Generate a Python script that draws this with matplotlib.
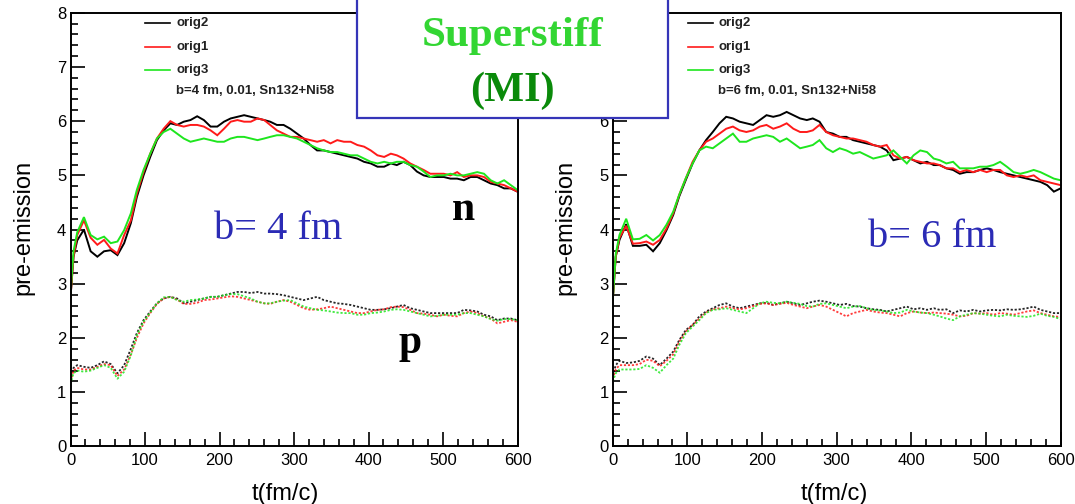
import matplotlib
matplotlib.use("Agg")
import matplotlib.pyplot as plt
from matplotlib.patches import Rectangle
from matplotlib.ticker import MultipleLocator, FuncFormatter

plt.rcParams['font.family'] = ['Liberation Sans', 'DejaVu Sans']

# time grid (fm/c)
t = [0, 4, 9, 18, 27, 36, 45, 54, 63, 72, 81, 89, 98, 107, 116, 125, 134, 143, 152, 161,
     170, 179, 188, 197, 206, 215, 224, 233, 242, 251, 260, 268, 277, 286, 295, 304, 313,
     322, 331, 340, 349, 358, 367, 376, 385, 394, 403, 412, 421, 430, 438, 447, 456, 465,
     474, 483, 492, 501, 510, 519, 528, 537, 546, 555, 564, 573, 582, 591, 600]

# b = 4 fm, neutrons
b4_n_orig2 = [2.76, 3.5, 3.8, 4.0, 3.6, 3.5, 3.6, 3.62, 3.53, 3.75, 4.12, 4.6, 5.0, 5.34, 5.65,
              5.83, 5.96, 5.93, 5.99, 6.02, 6.09, 6.02, 5.9, 5.9, 5.99, 6.05, 6.08, 6.11, 6.08,
              6.05, 6.02, 5.99, 5.93, 5.93, 5.86, 5.77, 5.68, 5.56, 5.46, 5.46, 5.43, 5.4, 5.37,
              5.34, 5.31, 5.25, 5.22, 5.16, 5.16, 5.22, 5.19, 5.25, 5.19, 5.07, 5.0, 4.97, 4.97,
              4.97, 4.94, 4.94, 4.91, 4.97, 4.97, 4.91, 4.85, 4.82, 4.76, 4.76, 4.7]
b4_n_orig1 = [2.76, 3.5, 3.9, 4.17, 3.85, 3.72, 3.81, 3.65, 3.56, 3.9, 4.17, 4.66, 5.06, 5.4, 5.68,
              5.86, 6.0, 5.93, 5.9, 5.93, 5.93, 5.9, 5.83, 5.74, 5.86, 5.99, 6.02, 5.99, 5.99,
              6.05, 6.02, 5.93, 5.83, 5.77, 5.71, 5.71, 5.68, 5.65, 5.62, 5.65, 5.59, 5.65, 5.62,
              5.62, 5.56, 5.53, 5.46, 5.37, 5.34, 5.4, 5.37, 5.31, 5.22, 5.16, 5.1, 5.03, 5.03,
              5.03, 5.0, 5.06, 4.97, 5.0, 5.0, 4.97, 4.88, 4.85, 4.82, 4.76, 4.7]
b4_n_orig3 = [2.8, 3.6, 3.95, 4.23, 3.9, 3.82, 3.87, 3.75, 3.78, 3.99, 4.3, 4.73, 5.1, 5.4, 5.68,
              5.8, 5.86, 5.77, 5.68, 5.62, 5.65, 5.68, 5.65, 5.62, 5.62, 5.68, 5.71, 5.71, 5.68,
              5.65, 5.68, 5.71, 5.74, 5.74, 5.71, 5.68, 5.62, 5.56, 5.5, 5.46, 5.43, 5.43, 5.4,
              5.37, 5.37, 5.31, 5.25, 5.22, 5.25, 5.22, 5.25, 5.25, 5.19, 5.16, 5.07, 4.97, 5.0,
              5.0, 5.03, 5.0, 5.0, 5.03, 5.06, 5.03, 4.91, 4.85, 4.91, 4.82, 4.73]

# b = 4 fm, protons
b4_p_orig2 = [1.22, 1.45, 1.5, 1.47, 1.45, 1.5, 1.57, 1.52, 1.35, 1.5, 1.8, 2.09, 2.33, 2.49, 2.64,
              2.73, 2.76, 2.73, 2.64, 2.67, 2.7, 2.73, 2.76, 2.76, 2.79, 2.82, 2.85, 2.85, 2.83,
              2.85, 2.82, 2.82, 2.81, 2.79, 2.76, 2.73, 2.7, 2.73, 2.76, 2.7, 2.67, 2.64, 2.63,
              2.61, 2.58, 2.55, 2.52, 2.52, 2.53, 2.55, 2.58, 2.61, 2.55, 2.52, 2.49, 2.46, 2.46,
              2.46, 2.46, 2.46, 2.52, 2.51, 2.49, 2.43, 2.4, 2.33, 2.36, 2.36, 2.33]
b4_p_orig1 = [1.2, 1.4, 1.45, 1.42, 1.42, 1.47, 1.52, 1.5, 1.3, 1.42, 1.7, 2.0, 2.27, 2.46, 2.63,
              2.73, 2.76, 2.71, 2.63, 2.63, 2.65, 2.7, 2.71, 2.73, 2.75, 2.77, 2.76, 2.73, 2.7,
              2.67, 2.64, 2.63, 2.67, 2.7, 2.67, 2.61, 2.55, 2.52, 2.53, 2.55, 2.58, 2.55, 2.52,
              2.49, 2.46, 2.46, 2.49, 2.52, 2.53, 2.57, 2.58, 2.57, 2.52, 2.46, 2.45, 2.43, 2.4,
              2.43, 2.41, 2.4, 2.46, 2.49, 2.46, 2.4, 2.36, 2.27, 2.3, 2.33, 2.3]
b4_p_orig3 = [1.15, 1.35, 1.4, 1.38, 1.4, 1.45, 1.5, 1.45, 1.25, 1.38, 1.68, 2.05, 2.3, 2.47, 2.64,
              2.75, 2.76, 2.7, 2.67, 2.7, 2.71, 2.73, 2.76, 2.76, 2.79, 2.81, 2.81, 2.77, 2.73,
              2.67, 2.64, 2.64, 2.67, 2.69, 2.7, 2.64, 2.58, 2.55, 2.52, 2.51, 2.49, 2.47, 2.46,
              2.46, 2.43, 2.43, 2.46, 2.47, 2.49, 2.52, 2.53, 2.52, 2.49, 2.46, 2.43, 2.4, 2.41,
              2.43, 2.43, 2.43, 2.46, 2.46, 2.43, 2.4, 2.35, 2.32, 2.35, 2.35, 2.33]

# b = 6 fm, neutrons
b6_n_orig2 = [2.7, 3.5, 3.81, 4.1, 3.7, 3.7, 3.72, 3.6, 3.75, 3.99, 4.27, 4.61, 4.92, 5.22, 5.46,
              5.65, 5.8, 5.96, 6.08, 6.05, 5.99, 5.96, 5.93, 6.02, 6.11, 6.08, 6.11, 6.17, 6.11,
              6.05, 6.02, 6.05, 5.99, 5.8, 5.77, 5.71, 5.71, 5.65, 5.62, 5.59, 5.56, 5.53, 5.46,
              5.28, 5.31, 5.34, 5.28, 5.22, 5.25, 5.19, 5.19, 5.13, 5.1, 5.03, 5.06, 5.06, 5.1,
              5.13, 5.1, 5.06, 5.03, 5.0, 4.97, 4.94, 4.91, 4.88, 4.82, 4.7, 4.76]
b6_n_orig1 = [2.7, 3.5, 3.85, 4.07, 3.74, 3.75, 3.78, 3.72, 3.81, 4.02, 4.3, 4.64, 4.95, 5.25, 5.46,
              5.62, 5.68, 5.77, 5.86, 5.9, 5.83, 5.8, 5.83, 5.9, 5.93, 5.86, 5.9, 5.96, 5.86,
              5.8, 5.8, 5.83, 5.93, 5.8, 5.74, 5.71, 5.68, 5.68, 5.65, 5.62, 5.56, 5.53, 5.56,
              5.37, 5.31, 5.34, 5.28, 5.25, 5.22, 5.22, 5.19, 5.13, 5.13, 5.06, 5.1, 5.06, 5.1,
              5.06, 5.1, 5.1, 5.0, 4.97, 5.0, 4.97, 5.0, 4.91, 4.88, 4.85, 4.82]
b6_n_orig3 = [2.7, 3.55, 3.9, 4.2, 3.82, 3.83, 3.9, 3.8, 3.9, 4.09, 4.33, 4.64, 4.95, 5.22, 5.46,
              5.53, 5.5, 5.59, 5.68, 5.77, 5.62, 5.62, 5.68, 5.71, 5.74, 5.71, 5.62, 5.68, 5.59,
              5.5, 5.53, 5.56, 5.65, 5.5, 5.43, 5.5, 5.46, 5.4, 5.43, 5.37, 5.31, 5.34, 5.37,
              5.46, 5.34, 5.22, 5.37, 5.46, 5.43, 5.31, 5.28, 5.22, 5.25, 5.13, 5.13, 5.13, 5.16,
              5.16, 5.19, 5.25, 5.16, 5.06, 5.03, 5.06, 5.1, 5.06, 5.0, 4.94, 4.91]

# b = 6 fm, protons
b6_p_orig2 = [1.3, 1.5, 1.58, 1.54, 1.55, 1.58, 1.66, 1.62, 1.5, 1.62, 1.75, 1.96, 2.15, 2.24, 2.4,
              2.49, 2.55, 2.61, 2.64, 2.58, 2.55, 2.58, 2.61, 2.64, 2.65, 2.61, 2.64, 2.67, 2.64,
              2.61, 2.64, 2.67, 2.69, 2.67, 2.64, 2.61, 2.63, 2.59, 2.58, 2.55, 2.53, 2.52, 2.49,
              2.52, 2.55, 2.58, 2.53, 2.55, 2.52, 2.55, 2.52, 2.53, 2.46, 2.51, 2.49, 2.52, 2.49,
              2.51, 2.52, 2.51, 2.53, 2.52, 2.53, 2.55, 2.58, 2.52, 2.49, 2.46, 2.46]
b6_p_orig1 = [1.25, 1.42, 1.5, 1.5, 1.5, 1.52, 1.6, 1.58, 1.48, 1.58, 1.7, 1.93, 2.12, 2.24, 2.36,
              2.47, 2.53, 2.55, 2.58, 2.55, 2.53, 2.55, 2.59, 2.63, 2.64, 2.61, 2.63, 2.65, 2.61,
              2.58, 2.55, 2.58, 2.61, 2.58, 2.52, 2.46, 2.4, 2.46, 2.49, 2.52, 2.49, 2.47, 2.46,
              2.43, 2.4, 2.46, 2.49, 2.47, 2.46, 2.47, 2.46, 2.45, 2.43, 2.4, 2.41, 2.46, 2.45,
              2.46, 2.43, 2.46, 2.45, 2.43, 2.46, 2.49, 2.51, 2.46, 2.43, 2.4, 2.39]
b6_p_orig3 = [1.2, 1.35, 1.42, 1.42, 1.42, 1.43, 1.5, 1.45, 1.36, 1.5, 1.62, 1.87, 2.09, 2.21, 2.33,
              2.46, 2.52, 2.53, 2.55, 2.52, 2.49, 2.46, 2.55, 2.64, 2.67, 2.65, 2.64, 2.67, 2.65,
              2.63, 2.59, 2.58, 2.63, 2.64, 2.61, 2.58, 2.55, 2.58, 2.59, 2.55, 2.52, 2.51, 2.49,
              2.46, 2.47, 2.52, 2.49, 2.47, 2.46, 2.43, 2.4, 2.36, 2.33, 2.4, 2.43, 2.46, 2.45,
              2.43, 2.41, 2.4, 2.43, 2.41, 2.4, 2.39, 2.41, 2.45, 2.41, 2.39, 2.35]

series_names = ["orig2", "orig1", "orig3"]
series_colors = ["#000000", "#ff1a1a", "#1ee61e"]

panels = [
    dict(n=[b4_n_orig2, b4_n_orig1, b4_n_orig3], p=[b4_p_orig2, b4_p_orig1, b4_p_orig3],
         info="b=4 fm, 0.01, Sn132+Ni58", big="b= 4 fm", big_xy=(0.464, 0.478),
         rect=[0.0656, 0.1141, 0.4158, 0.8607], xlab_x=0.48, ymax_label=8),
    dict(n=[b6_n_orig2, b6_n_orig1, b6_n_orig3], p=[b6_p_orig2, b6_p_orig1, b6_p_orig3],
         info="b=6 fm, 0.01, Sn132+Ni58", big="b= 6 fm", big_xy=(0.713, 0.461),
         rect=[0.5700, 0.1141, 0.4166, 0.8607], xlab_x=0.494, ymax_label=6),
]

fig = plt.figure(figsize=(10.75, 5.04), dpi=100)
fig.patch.set_facecolor("white")

axes = []
for pnl in panels:
    ax = fig.add_axes(pnl["rect"])
    axes.append(ax)
    for ys, c in zip(pnl["n"], series_colors):
        ax.plot(t, ys, color=c, lw=1.4, solid_joinstyle="miter")
    for ys, c in zip(pnl["p"], series_colors):
        ax.plot(t, ys, color=c, lw=1.3, ls=(0, (1.2, 1.0)), alpha=0.85)

    ax.set_xlim(0, 600)
    ax.set_ylim(0, 8)
    ax.xaxis.set_major_locator(MultipleLocator(100))
    ax.xaxis.set_minor_locator(MultipleLocator(20))
    ax.yaxis.set_major_locator(MultipleLocator(1))
    ax.yaxis.set_minor_locator(MultipleLocator(0.2))
    # labels that would sit beneath the title box are left blank
    top = pnl["ymax_label"]
    ax.yaxis.set_major_formatter(FuncFormatter(
        lambda v, pos, top=top: "" if v > top + 0.5 else f"{v:.0f}"))
    ax.tick_params(which="both", direction="in", top=False, right=False, width=1.2,
                   colors="black", labelsize=12)
    ax.tick_params(which="major", length=10)
    ax.tick_params(which="minor", length=5)
    ax.tick_params(axis="x", pad=5)
    ax.tick_params(axis="y", pad=3)
    for sp in ax.spines.values():
        sp.set_linewidth(1.4)

    ax.set_xlabel("t(fm/c)", fontsize=17, va="center")
    ax.xaxis.set_label_coords(pnl["xlab_x"], -0.11)
    ax.set_ylabel("pre-emission", fontsize=17, va="center")
    ax.yaxis.set_label_coords(-0.105, 0.506)

    # legend block
    ys_leg = [0.976, 0.921, 0.868]
    for yl, name, c in zip(ys_leg, series_names, series_colors):
        ax.plot([0.167, 0.223], [yl, yl], color=c, lw=1.2, transform=ax.transAxes,
                clip_on=False)
        ax.text(0.236, yl, name, transform=ax.transAxes, fontsize=9.5, fontweight="bold",
                va="center", ha="left", color="#222222")
    ax.text(0.236, 0.819, pnl["info"], transform=ax.transAxes, fontsize=9.5,
            fontweight="bold", va="center", ha="left", color="#222222")

    ax.text(pnl["big_xy"][0], pnl["big_xy"][1], pnl["big"], transform=ax.transAxes,
            fontsize=29, family=["Liberation Serif"], color="#2b2bb5",
            ha="center", va="baseline")

# particle labels
axes[0].text(0.878, 0.522, "n", transform=axes[0].transAxes, fontsize=30,
             family=["Liberation Serif"], fontweight="bold", ha="center", va="baseline")
axes[0].text(0.76, 0.2155, "p", transform=axes[0].transAxes, fontsize=30,
             family=["Liberation Serif"], fontweight="bold", ha="center", va="baseline")

# title box
box = Rectangle((0.3321, 0.7659), 0.2893, 0.26, transform=fig.transFigure,
                facecolor="white", edgecolor="#3535b8", lw=1.6, zorder=10)
fig.add_artist(box)
fig.text(0.4767, 0.929, "Superstiff", fontsize=31, family=["Liberation Serif"],
         fontweight="bold", color="#33d633", ha="center", va="center", zorder=11)
fig.text(0.4767, 0.819, "(MI)", fontsize=30.5, family=["Liberation Serif"],
         fontweight="bold", color="#0a8a0a", ha="center", va="center", zorder=11)

fig.savefig("out.png", dpi=100, facecolor="white")
